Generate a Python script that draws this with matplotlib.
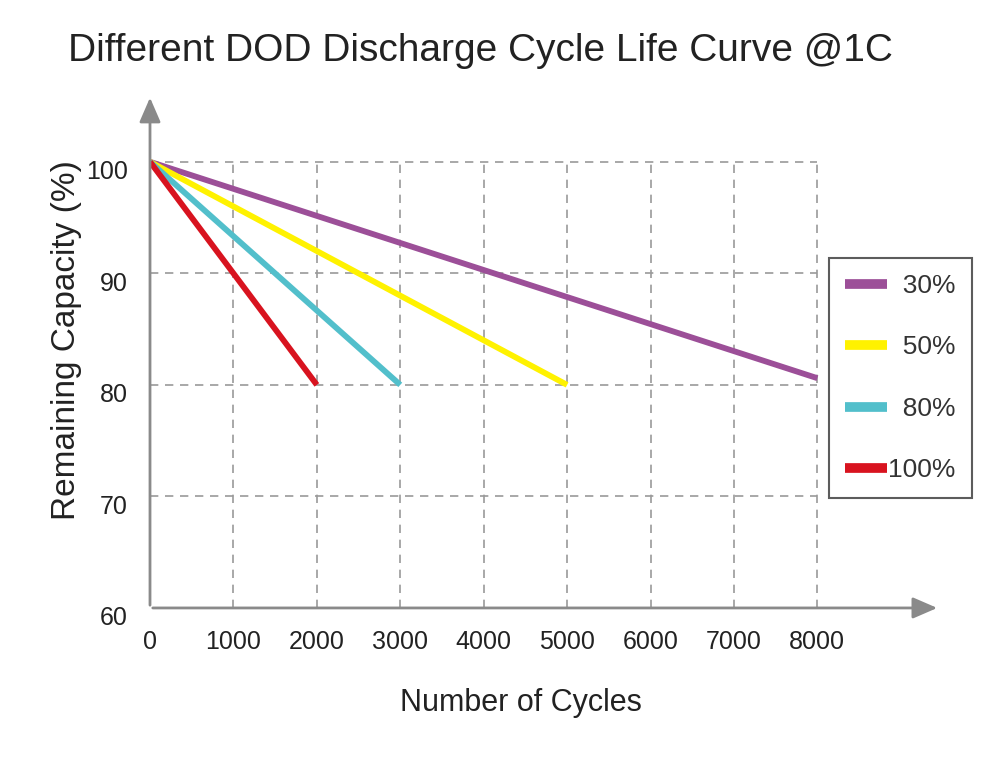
import matplotlib.pyplot as plt
from matplotlib.lines import Line2D
from matplotlib.transforms import ScaledTranslation

plt.rcParams['font.family'] = ['Liberation Sans', 'DejaVu Sans']

# cycle life lines: start at 0 cycles / 100 %, end at rated cycles
dod_labels = ['30%', '50%', '80%', '100%']
end_cycles = [8000, 5000, 3000, 2000]
end_capacity = [80.6, 80, 80, 80]
start_cycles = [0, 0, 0, 0]
start_capacity = [100, 100, 100, 100]
colors = ['#9c4f98', '#fff200', '#52bfcb', '#d8131f']

x_ticks = [0, 1000, 2000, 3000, 4000, 5000, 6000, 7000, 8000]
y_ticks = [60, 70, 80, 90, 100]

fig = plt.figure(figsize=(10, 7.59), dpi=100)
ax = fig.add_axes([0.15, 0.199, 0.79, 0.676])
ax.set_xlim(0, 9470)
ax.set_ylim(60, 106)

# dashed grid box
grid_kw = dict(colors='#9a9a9a', linestyles=(0, (5, 4)), linewidth=1.2, zorder=1)
ax.hlines(y_ticks[1:], 0, x_ticks[-1], **grid_kw)
ax.vlines(x_ticks[1:], 60, y_ticks[-1], **grid_kw)

for x0, y0, x1, y1, c in zip(start_cycles, start_capacity, end_cycles, end_capacity, colors):
    ax.plot([x0, x1], [y0, y1], color=c, lw=4.2, solid_capstyle='butt', zorder=3)

for s in ax.spines.values():
    s.set_visible(False)
arrow = dict(arrowstyle='-|>,head_length=1.5,head_width=0.65', color='#8a8a8a', lw=2)
ax.annotate('', xy=(1.0, 0), xytext=(0, 0), xycoords='axes fraction', arrowprops=arrow)
ax.annotate('', xy=(0, 1.0), xytext=(0, 0), xycoords='axes fraction', arrowprops=arrow)

ax.set_xticks(x_ticks)
ax.set_yticks(y_ticks)
ax.tick_params(length=0, labelsize=18, colors='#222222')
ax.tick_params(axis='x', pad=16)
ax.tick_params(axis='y', pad=16)
shift = ScaledTranslation(0, -8 / 100, fig.dpi_scale_trans)
for lbl in ax.get_yticklabels():
    lbl.set_transform(lbl.get_transform() + shift)

ax.set_xlabel('Number of Cycles', fontsize=22, color='#222222')
ax.xaxis.set_label_coords(0.47, -0.185)
ax.xaxis.label.set_va('center')
ax.set_ylabel('Remaining Capacity (%)', fontsize=24, color='#222222')
ax.yaxis.set_label_coords(-0.106, 0.522)
ax.yaxis.label.set_va('center')

fig.text(0.48, 0.933, 'Different DOD Discharge Cycle Life Curve @1C',
         ha='center', va='center', fontsize=28, color='#222222')

handles = [Line2D([], [], color=c, lw=7, solid_capstyle='butt') for c in colors]
# pad labels so the percent signs line up on the right
w = max(len(s) for s in dod_labels)
labels = [' ' * 2 * (w - len(s)) + s for s in dod_labels]
leg = fig.legend(handles, labels, loc='upper left', bbox_to_anchor=(0.829, 0.66),
                 frameon=True, fancybox=False, edgecolor='#333333', fontsize=19,
                 labelspacing=1.42, handlelength=1.6, handletextpad=0.05,
                 borderpad=0.6, borderaxespad=0)
leg.get_frame().set_linewidth(1.5)
for t in leg.get_texts():
    t.set_color('#333333')

fig.savefig('out.png', dpi=100)
